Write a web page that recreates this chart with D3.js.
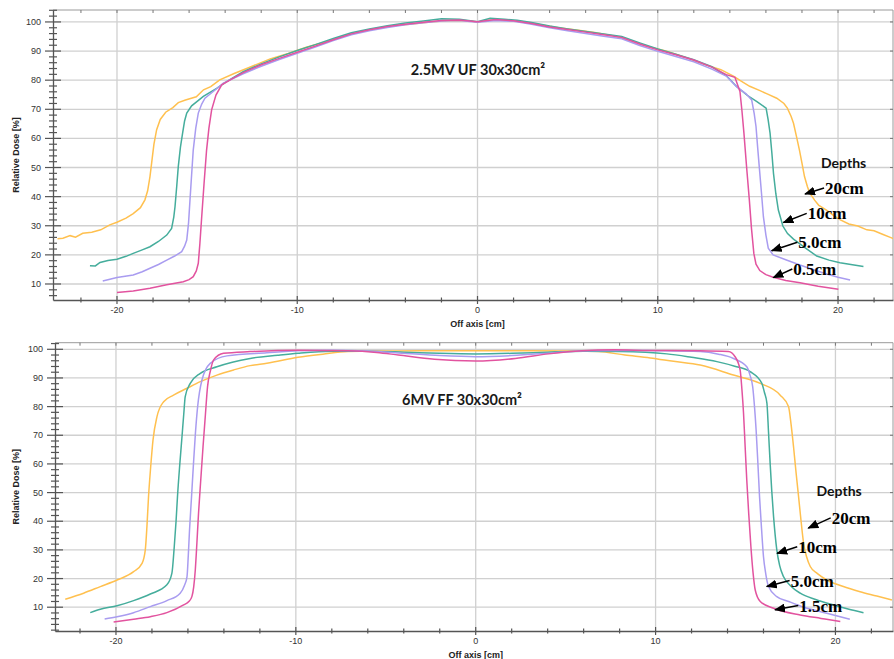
<!DOCTYPE html>
<html>
<head>
<meta charset="utf-8">
<script src="https://cdn.jsdelivr.net/npm/d3@7"></script>
<style>
  body { margin: 0; background: #fff; }
  svg { display: block; }
</style>
</head>
<body>
<div id="chart"></div>
<script>
// ---- data: [off axis cm, relative dose %] ----
// 2.5MV UF 30x30cm2, depths 20, 10, 5.0, 0.5 cm
const uf20 = [[-23.3,25.5],[-23.0,25.7],[-22.6,26.6],[-22.3,26.1],[-21.9,27.4],[-21.4,27.8],[-20.9,28.6],[-20.4,30.3],[-20.0,31.2],[-19.5,32.6],[-19.1,34.2],[-18.7,36.2],[-18.45,38.9],[-18.3,42],[-18.17,46.9],[-18.05,53],[-17.95,58],[-17.8,63],[-17.6,66.5],[-17.3,69],[-16.9,70.6],[-16.6,72.3],[-16.2,73.2],[-15.6,74.3],[-15.2,76.7],[-14.8,77.8],[-14.3,80.1],[-13.5,82.3],[-12.5,84.8],[-11.5,87.3],[-10.5,89.2],[-9.5,91.3],[-8.5,93],[-7.5,95],[-6.5,96.6],[-5.5,97.8],[-4.5,98.8],[-3.5,99.4],[-2.5,100.1],[-1.5,100.5],[-0.5,100.4],[0,99.9],[0.5,100.6],[1.5,100.7],[2.5,100.1],[3.5,99],[4.5,98],[5.5,97.2],[6.5,96.4],[7.5,95.3],[8.5,93.6],[9.5,91.5],[10.5,89.9],[11.5,87.9],[12.5,85.6],[13.5,83.6],[14.2,81.4],[14.56,79.9],[15.1,77.9],[15.67,76.4],[16.1,75.2],[16.6,73.8],[17.0,72],[17.19,70.4],[17.4,67.5],[17.53,65.2],[17.7,60.5],[17.86,56],[18.0,51.5],[18.14,46.9],[18.3,43.5],[18.42,41.4],[18.7,38.8],[18.92,37.1],[19.4,35.2],[19.8,33.3],[20.13,32.0],[20.6,30.6],[21.1,29.9],[21.6,28.6],[22.0,28.3],[22.5,27],[22.9,26.0],[23.1,25.5]];
const uf10 = [[-21.5,16.3],[-21.2,16.2],[-20.94,17.4],[-20.5,18.1],[-20.0,18.5],[-19.5,19.5],[-19.1,20.5],[-18.6,21.7],[-18.17,22.8],[-17.7,24.6],[-17.24,26.8],[-16.97,29.1],[-16.85,33],[-16.78,36.6],[-16.68,44],[-16.6,50.3],[-16.48,57],[-16.36,61.8],[-16.25,66],[-16.13,68.7],[-15.86,71.2],[-15.5,73],[-15.21,74.4],[-14.47,77.2],[-13.92,79.5],[-13,82.9],[-12,85.6],[-11,88],[-10,90.2],[-9,92.2],[-8,94.3],[-7,96.3],[-6,97.6],[-5,98.7],[-4,99.6],[-3,100.3],[-2,101.1],[-1,100.9],[0,100.1],[0.7,101.3],[1.5,100.9],[2.2,100.6],[3,99.8],[4,98.6],[5,97.6],[6,96.7],[7,95.9],[8,95],[9,92.8],[10,90.7],[11,88.9],[12,87],[13,84.6],[13.8,81.6],[14.37,77.8],[14.94,74.9],[15.5,72.6],[16.01,70.4],[16.12,66.5],[16.23,61.8],[16.33,55],[16.42,48.0],[16.55,41],[16.69,35.4],[16.94,29.9],[17.2,27.3],[17.53,25.4],[18.2,22.3],[18.82,19.6],[19.5,18.2],[20.11,17.3],[20.8,16.6],[21.41,16.0]];
const uf5 = [[-20.79,11.0],[-20.0,12.2],[-19.1,13.1],[-18.6,14.2],[-18.17,15.4],[-17.7,16.7],[-17.24,18.2],[-16.8,19.6],[-16.41,21.1],[-16.25,23],[-16.13,25.1],[-16.03,31],[-15.95,38.9],[-15.86,47.5],[-15.77,56.0],[-15.63,63.5],[-15.49,68.7],[-15.3,71.8],[-15.12,73.8],[-14.66,76.1],[-14.1,79.0],[-13,82.2],[-12,84.8],[-11,87.1],[-10,89.2],[-9,91.4],[-8,93.6],[-7,95.6],[-6,97],[-5,98.1],[-4,99],[-3,99.7],[-2,100.3],[-1,100.5],[0,99.9],[1,100.5],[2,100.2],[3,99.2],[4,98],[5,97],[6,96],[7,95.1],[8,94.2],[9,91.9],[10,89.9],[11,88.1],[12,86.3],[13,83.8],[13.8,81.4],[14.37,77.8],[14.9,75.3],[15.21,73.2],[15.35,68.5],[15.45,64.1],[15.54,57],[15.63,50.3],[15.75,41.5],[15.86,33.1],[16.0,26.8],[16.13,22.3],[16.4,20.0],[17.1,18.3],[17.89,16.5],[18.6,15],[19.37,13.4],[20.0,12.3],[20.67,11.4]];
const uf05 = [[-20.0,7.1],[-19.1,7.6],[-18.17,8.5],[-17.24,9.7],[-16.32,10.8],[-16.0,11.5],[-15.77,12.5],[-15.6,14.5],[-15.49,17.1],[-15.4,24],[-15.3,33.1],[-15.17,44.5],[-15.03,56.0],[-14.9,63.5],[-14.75,69.8],[-14.51,74.9],[-14.19,78.4],[-13.55,80.7],[-13,82.6],[-12,85.3],[-11,87.5],[-10,89.6],[-9,91.7],[-8,93.9],[-7,95.9],[-6,97.3],[-5,98.4],[-4,99.2],[-3,99.9],[-2,100.5],[-1,100.7],[0,100.1],[1,100.8],[2,100.4],[3,99.5],[4,98.3],[5,97.4],[6,96.5],[7,95.6],[8,94.7],[9,92.4],[10,90.4],[11,88.7],[12,86.9],[13,84.5],[13.8,81.9],[14.28,81.0],[14.56,76.1],[14.67,69.5],[14.78,61.8],[14.93,50],[15.08,38.9],[15.2,29],[15.33,20.5],[15.45,16.8],[15.66,14.6],[16.0,13.2],[16.4,12.3],[17.1,11.2],[17.89,10.4],[18.9,9.2],[20.02,8.2]];

// 6MV FF 30x30cm2, depths 20, 10, 5.0, 1.5 cm
const ff20 = [[-22.82,12.8],[-21.8,14.9],[-20.87,17.2],[-19.94,19.5],[-19.02,22.4],[-18.55,25.3],[-18.37,30.0],[-18.28,38],[-18.19,48.6],[-18.07,59],[-17.94,68.4],[-17.72,76.5],[-17.35,81.7],[-16.8,84.0],[-16.05,86.4],[-15.31,88.7],[-14.39,91.0],[-13.46,92.8],[-12.54,94.3],[-11.61,95.1],[-9.88,97.2],[-8.5,98.3],[-7.1,99.2],[-5,99.4],[-3,99.5],[0,99.5],[3,99.5],[5,99.4],[6.8,99.2],[8.3,98.0],[9.7,97],[11,95.8],[12.48,94.5],[14.33,91.0],[15.82,88.1],[16.93,84.0],[17.39,80.0],[17.53,74],[17.67,66.0],[17.81,57],[17.95,48.6],[18.09,40],[18.23,32.3],[18.4,27.5],[18.6,24.2],[19.0,21.7],[19.52,19.5],[20.4,17.3],[21.37,15.4],[22.3,13.9],[23.14,12.5]];
const ff10 = [[-21.43,8.1],[-20.87,9.3],[-19.94,10.5],[-19.02,12.3],[-18.09,14.6],[-17.17,17.8],[-16.89,21.9],[-16.76,31.1],[-16.66,40],[-16.58,48.6],[-16.45,60],[-16.33,69.5],[-16.23,77.5],[-16.15,83.5],[-15.87,88.1],[-15.31,91.6],[-14.39,93.9],[-12.54,96.8],[-11,97.9],[-9.88,98.6],[-8,99.3],[-6,99.3],[-4,99],[-2,98.6],[0,98.4],[2,98.6],[4,99],[6,99.3],[8,99.2],[10.63,98.4],[12,97.2],[13.41,95.7],[14.4,94.1],[15.26,92.2],[15.91,88.1],[16.05,85],[16.19,81.2],[16.28,71],[16.37,60.2],[16.46,50.5],[16.56,41.6],[16.74,30.0],[16.9,24.5],[17.11,20.7],[17.5,17.5],[18.04,14.9],[18.9,12.7],[19.89,10.8],[20.7,9.4],[21.56,8.1]];
const ff5 = [[-20.63,5.9],[-19.94,6.7],[-19.02,8.1],[-18.09,10.2],[-17.17,12.3],[-16.43,14.9],[-16.2,17.5],[-16.05,20.7],[-15.98,28],[-15.91,37.0],[-15.8,48.5],[-15.69,60.2],[-15.58,71],[-15.46,80.0],[-15.22,89.3],[-14.76,95.1],[-13.83,97.7],[-11.61,98.8],[-9.88,99.5],[-8,99.7],[-6,99.4],[-4,98.6],[-2,97.8],[0,97.4],[2,97.8],[4,98.6],[6,99.5],[8,99.6],[10,99.5],[12.48,99.2],[13.5,98.3],[14.33,96.8],[15.07,93.9],[15.25,91],[15.4,86.9],[15.5,80],[15.59,71.8],[15.69,60],[15.78,48.6],[15.89,37.5],[16.0,27.6],[16.13,21.5],[16.28,17.2],[16.74,13.7],[17.4,12],[18.04,10.45],[19.52,7.9],[20.8,5.8]];
const ff15 = [[-20.13,4.8],[-19.02,5.8],[-18.09,6.7],[-17.17,8.1],[-16.24,10.8],[-15.95,12],[-15.78,13.7],[-15.68,17],[-15.59,23.0],[-15.5,32.5],[-15.41,42.8],[-15.28,55],[-15.16,66.0],[-15.03,77],[-14.91,86.9],[-14.75,92.5],[-14.57,96.3],[-14.02,98.6],[-12.54,99.2],[-9.88,99.7],[-7.1,99.5],[-5.5,98.9],[-4.3,98.0],[-2.3,96.5],[0,95.9],[2.2,96.8],[4.05,98.4],[5.9,99.5],[7.7,99.8],[9.6,99.6],[12.48,99.5],[14.05,99.2],[14.42,97.4],[14.7,92.8],[14.8,86],[14.89,77.7],[14.98,66],[15.07,54.4],[15.18,42.5],[15.3,31.1],[15.42,22],[15.54,16.0],[15.82,12.0],[16.56,9.65],[18.04,7.3],[19.2,6.1],[20.27,5.0]];

// depth labels and where their arrows point (data units)
const ufLabels = ["20cm", "10cm", "5.0cm", "0.5cm"];
const ufLabelAt = [[19.28, 40.9], [18.32, 32.2], [17.8, 22.3], [17.52, 13.1]];
const ufArrowTip = [[18.17, 40.9], [16.97, 31.1], [16.32, 21.4], [16.41, 12.2]];
const ffLabels = ["20cm", "10cm", "5.0cm", "1.5cm"];
const ffLabelAt = [[19.79, 39.1], [17.93, 29.0], [17.51, 17.2], [17.99, 8.5]];
const ffArrowTip = [[18.49, 37.6], [16.76, 28.8], [16.18, 17.2], [16.64, 9.1]];

const xMajor = [-20, -10, 0, 10, 20];
const yMajor = [10, 20, 30, 40, 50, 60, 70, 80, 90, 100];

const colors = ["#ffc04f", "#45ad9c", "#a99cf0", "#e2539f"];

const width = 894, height = 659;

const svg = d3.select("#chart")
    .append("svg")
    .attr("width", width)
    .attr("height", height)
    .style("font-family", "'Liberation Sans', Arial, sans-serif");

// arrow head
svg.append("defs").append("marker")
    .attr("id", "head")
    .attr("viewBox", "0 0 11 9")
    .attr("refX", 10)
    .attr("refY", 4.5)
    .attr("markerWidth", 11)
    .attr("markerHeight", 9)
    .attr("markerUnits", "userSpaceOnUse")
    .attr("orient", "auto")
    .append("path")
    .attr("d", "M0,0 L11,4.5 L0,9 Z")
    .attr("fill", "#000");

function drawPanel(p) {
    const xScale = d3.scaleLinear().domain(p.xDomain).range([p.left, p.right]);
    const yScale = d3.scaleLinear().domain(p.yDomain).range([p.bottom, p.top]);
    const g = svg.append("g");

    // grid
    g.selectAll(".vgrid").data(xMajor).enter().append("line")
        .attr("x1", d => xScale(d)).attr("x2", d => xScale(d))
        .attr("y1", p.top).attr("y2", p.bottom)
        .attr("stroke", "#d0d0d0").attr("stroke-width", 1.3);
    g.selectAll(".hgrid").data(yMajor).enter().append("line")
        .attr("x1", p.left).attr("x2", p.right)
        .attr("y1", d => yScale(d)).attr("y2", d => yScale(d))
        .attr("stroke", "#d0d0d0").attr("stroke-width", 1.3);

    // frame: top and right light
    g.append("line").attr("x1", p.left).attr("x2", p.right).attr("y1", p.top).attr("y2", p.top)
        .attr("stroke", "#9a9a9a");
    g.append("line").attr("x1", p.right).attr("x2", p.right).attr("y1", p.top).attr("y2", p.bottom)
        .attr("stroke", "#9a9a9a");

    // left axis with major and minor ticks
    const yTicks = d3.range(Math.ceil(p.yDomain[0] / 2) * 2, p.yDomain[1], 2);
    const yAxis = d3.axisLeft(yScale).tickValues(yTicks).tickSize(0).tickFormat("");
    g.append("g").attr("transform", `translate(${p.left},0)`).call(yAxis)
        .select(".domain").attr("stroke", "#555").attr("stroke-width", 1.3);
    g.selectAll(".yt").data(yTicks).enter().append("line")
        .attr("x1", d => p.left - (d % 10 === 0 ? 8 : 4))
        .attr("x2", d => p.left + (d % 10 === 0 ? 8 : 4))
        .attr("y1", d => yScale(d)).attr("y2", d => yScale(d))
        .attr("stroke", "#555").attr("stroke-width", 1.2);
    g.selectAll(".yl").data(yMajor).enter().append("text")
        .attr("x", p.left - 12).attr("y", d => yScale(d) + 3)
        .attr("text-anchor", "end")
        .style("font-size", "9px").attr("fill", "#333")
        .text(d => d);
    g.selectAll(".rt").data(yMajor).enter().append("line")
        .attr("x1", p.right - 3).attr("x2", p.right)
        .attr("y1", d => yScale(d)).attr("y2", d => yScale(d))
        .attr("stroke", "#777");

    // bottom axis
    const xTicks = d3.range(Math.ceil(p.xDomain[0] / 2) * 2, p.xDomain[1], 2);
    g.append("g").attr("transform", `translate(0,${p.bottom})`)
        .call(d3.axisBottom(xScale).tickValues([]).tickSizeOuter(0))
        .select(".domain").attr("stroke", "#555").attr("stroke-width", 1.3);
    g.selectAll(".xt").data(xTicks).enter().append("line")
        .attr("x1", d => xScale(d)).attr("x2", d => xScale(d))
        .attr("y1", d => p.bottom - (d % 10 === 0 ? 4 : 2.5))
        .attr("y2", d => p.bottom + (d % 10 === 0 ? 4 : 2.5))
        .attr("stroke", "#555").attr("stroke-width", 1.2);
    g.selectAll(".tt").data(xTicks).enter().append("line")
        .attr("x1", d => xScale(d)).attr("x2", d => xScale(d))
        .attr("y1", p.top).attr("y2", p.top + 3)
        .attr("stroke", "#777");
    g.selectAll(".xl").data(xMajor).enter().append("text")
        .attr("x", d => xScale(d)).attr("y", p.bottom + 13)
        .attr("text-anchor", "middle")
        .style("font-size", "9px").attr("fill", "#333")
        .text(d => d);

    // axis titles
    g.append("text")
        .attr("x", xScale(0)).attr("y", p.bottom + 26.5)
        .attr("text-anchor", "middle")
        .style("font-size", "9px").style("font-weight", "bold").attr("fill", "#222")
        .text("Off axis [cm]");
    g.append("text")
        .attr("transform", "rotate(-90)")
        .attr("x", -(p.top + p.bottom) / 2).attr("y", 19)
        .attr("text-anchor", "middle")
        .style("font-size", "9px").style("font-weight", "bold").attr("fill", "#222")
        .text("Relative Dose [%]");

    // curves
    const clipId = "clip" + p.id;
    svg.select("defs").append("clipPath").attr("id", clipId)
        .append("rect").attr("x", p.left).attr("y", p.top)
        .attr("width", p.right - p.left).attr("height", p.bottom - p.top);
    const line = d3.line()
        .x(d => xScale(d[0]))
        .y(d => yScale(d[1]))
        .curve(p.curve);
    g.append("g").attr("clip-path", `url(#${clipId})`)
        .selectAll("path").data(p.series).enter().append("path")
        .attr("d", line)
        .attr("fill", "none")
        .attr("stroke", (d, i) => colors[i])
        .attr("stroke-width", 1.5);

    // title
    g.append("text")
        .attr("x", p.titleX).attr("y", p.titleY)
        .attr("text-anchor", "middle")
        .style("font-family", "Lato, 'Open Sans', sans-serif")
        .style("font-size", "14.5px").style("font-weight", "bold").attr("fill", "#1a1a1a")
        .text(p.title);

    // depth annotations
    g.append("text")
        .attr("x", xScale(p.depthsAt[0])).attr("y", yScale(p.depthsAt[1]))
        .style("font-family", "Lato, 'Open Sans', sans-serif")
        .style("font-size", "14px").style("font-weight", "bold").attr("fill", "#111")
        .text("Depths");
    p.labels.forEach((lab, i) => {
        const tx = xScale(p.labelAt[i][0]), ty = yScale(p.labelAt[i][1]);
        g.append("line")
            .attr("x1", tx - 1).attr("y1", ty - 6)
            .attr("x2", xScale(p.tips[i][0])).attr("y2", yScale(p.tips[i][1]))
            .attr("stroke", "#000").attr("stroke-width", 1.5)
            .attr("marker-end", "url(#head)");
        g.append("text")
            .attr("x", tx).attr("y", ty)
            .style("font-family", "'Liberation Serif', 'Times New Roman', serif")
            .style("font-size", "17px").style("font-weight", "bold").attr("fill", "#000")
            .text(lab);
    });
}

drawPanel({
    id: 1, left: 53, right: 893, top: 10, bottom: 300,
    xDomain: [-23.55, 23.05], yDomain: [4.5, 104.1],
    series: [uf20, uf10, uf5, uf05], curve: d3.curveLinear,
    title: "2.5MV UF 30x30cm²", titleX: 478, titleY: 75,
    depthsAt: [19.06, 49.9],
    labels: ufLabels, labelAt: ufLabelAt, tips: ufArrowTip
});

drawPanel({
    id: 2, left: 55, right: 893, top: 342.7, bottom: 631,
    xDomain: [-23.39, 23.2], yDomain: [1.7, 102.3],
    series: [ff20, ff10, ff5, ff15], curve: d3.curveMonotoneX,
    title: "6MV FF 30x30cm²", titleX: 462, titleY: 405,
    depthsAt: [18.95, 48.9],
    labels: ffLabels, labelAt: ffLabelAt, tips: ffArrowTip
});
</script>
</body>
</html>
